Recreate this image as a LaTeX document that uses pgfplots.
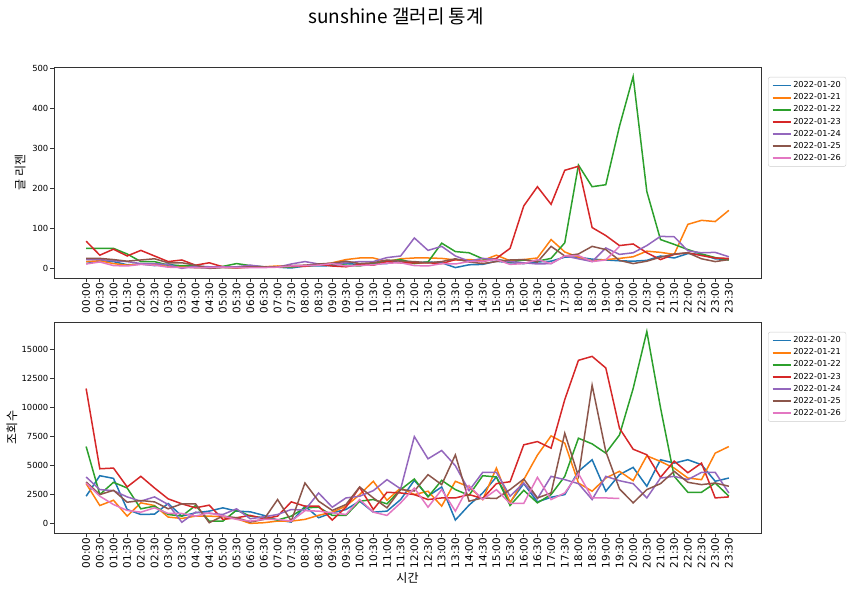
\documentclass[border=0pt]{standalone}
\usepackage{fontspec}
\setmainfont{DejaVu Sans}
\newfontfamily\kr{Noto Sans CJK KR}
\usepackage{pgfplots}
\usepackage{pgfplotstable}
\pgfplotsset{compat=1.18}
\definecolor{c0}{HTML}{1F77B4}
\definecolor{c1}{HTML}{FF7F0E}
\definecolor{c2}{HTML}{2CA02C}
\definecolor{c3}{HTML}{D62728}
\definecolor{c4}{HTML}{9467BD}
\definecolor{c5}{HTML}{8C564B}
\definecolor{c6}{HTML}{E377C2}

\pgfplotstableread{
t a b c d e f g
0 12 17 50 68 22 25 11
1 19 19 50 33 22 25 16
2 17 12 50 48 19 22 7
3 9 8 36 31 17 18 6
4 11 11 17 45 12 21 10
5 7 9 17 31 12 24 8
6 11 5 8 17 9 14 3
7 4 4 7 21 0 14 2
8 2 2 6 8 6 8 2
9 1 2 3 14 4 0 2
10 3 3 5 4 4 2 3
11 2 1 12 2 4 2 2
12 3 3 7 4 8 4 2
13 4 4 4 4 4 4 2
14 3 6 3 4 3 4 3
15 1 4 4 6 11 7 6
16 6 7 6 5 17 8 7
17 6 8 9 10 11 11 8
18 7 14 11 6 12 13 12
19 12 22 8 4 14 18 6
20 10 26 6 10 17 12 7
21 11 26 13 8 17 14 9
22 12 17 18 17 27 21 13
23 21 24 22 14 31 18 14
24 14 26 12 14 76 17 7
25 16 26 16 14 45 14 6
26 14 25 63 12 55 17 12
27 2 21 42 22 31 24 11
28 9 22 39 19 18 16 17
29 10 20 24 17 25 12 18
30 18 33 23 25 22 17 22
31 14 19 16 50 17 21 10
32 12 22 21 156 14 22 12
33 16 26 18 204 11 16 22
34 18 72 25 160 12 55 12
35 28 41 64 245 31 31 31
36 28 28 258 255 24 36 32
37 23 19 204 102 17 55 17
38 21 22 209 82 51 47 21
39 19 25 355 57 35 20 55
40 18 29 479 61 39 12 nan
41 20 43 192 39 57 18 nan
42 31 40 72 22 80 28 nan
43 26 35 60 35 79 36 nan
44 37 110 47 39 44 39 nan
45 35 120 36 32 39 24 nan
46 24 117 27 26 40 17 nan
47 22 145 21 25 29 22 nan
}\toptab

\pgfplotstableread{
t a b c d e f g
0 2350 3435 6640 11650 4010 3580 3490
1 4120 1545 2490 4720 2920 2490 2350
2 3890 2000 3550 4780 2830 2860 1630
3 1200 630 3060 3150 2290 1830 1120
4 770 1775 1260 4065 1920 1975 970
5 800 1545 1490 3060 2290 1860 1345
6 1720 545 770 2120 1630 1260 860
7 630 430 630 1690 100 1690 860
8 915 630 1545 1345 970 1690 630
9 1060 630 200 1575 860 60 915
10 1345 570 200 345 770 630 630
11 1060 400 1145 490 1260 490 345
12 1000 0 630 690 400 115 200
13 690 60 490 400 570 345 345
14 290 200 290 630 770 2060 345
15 115 200 630 1860 1200 200 200
16 1490 345 1345 1490 1150 3490 1100
17 490 700 1400 1490 2630 1920 1060
18 915 970 690 290 1400 1120 915
19 1200 1490 690 1400 2200 1630 770
20 1920 2490 1920 3120 2350 3150 2060
21 970 3640 2060 1200 2830 2200 970
22 1060 2000 1690 2690 3780 1345 690
23 2060 3060 2920 2630 2980 2920 1775
24 3720 2490 3835 2490 7500 2800 3060
25 2350 2780 2290 2060 5580 4210 1400
26 3150 1490 3720 2200 6300 3350 2920
27 290 3640 2920 2200 4980 5920 1060
28 1575 3150 2430 2490 2830 1920 3265
29 2630 2060 4120 2150 4410 2200 2060
30 4010 4780 4010 3435 4410 2150 2920
31 1830 1775 1545 3600 2350 2920 1720
32 3435 3780 2860 6790 3490 3835 1720
33 1860 5900 1775 7070 2130 2200 3980
34 2260 7560 2490 6500 4065 2630 2060
35 2490 6930 4065 10700 3780 7790 2630
36 4500 3490 7360 14090 3435 4065 4300
37 5500 2780 6870 14430 2060 11940 2200
38 2780 3920 6070 13430 4065 6210 2200
39 4210 4500 7640 8220 3690 2980 2150
40 4840 3690 11650 6410 3435 1775 nan
41 3210 5840 16580 5930 2200 2920 nan
42 5500 5350 10000 3980 3920 3435 nan
43 5210 4780 4070 5380 4065 4500 nan
44 5500 3920 2690 4380 3780 3550 nan
45 5070 3780 2690 5210 4410 3350 nan
46 3640 6070 3490 2200 4410 3490 nan
47 3920 6640 2350 2290 2630 3210 nan
}\bottab

\pgfplotsset{
  mystyle/.style={
    scale only axis, width=707pt, height=211pt,
    xmin=-2.35, xmax=49.35,
    xtick={0,...,47},
    xticklabels={00:00,00:30,01:00,01:30,02:00,02:30,03:00,03:30,04:00,04:30,05:00,05:30,06:00,06:30,07:00,07:30,08:00,08:30,09:00,09:30,10:00,10:30,11:00,11:30,12:00,12:30,13:00,13:30,14:00,14:30,15:00,15:30,16:00,16:30,17:00,17:30,18:00,18:30,19:00,19:30,20:00,20:30,21:00,21:30,22:00,22:30,23:00,23:30},
    xticklabel style={rotate=90, anchor=east, font=\fontsize{10.4}{12}\selectfont, inner sep=1.5pt},
    yticklabel style={font=\fontsize{8.4}{10}\selectfont, inner sep=2pt},
    tick align=outside, xtick pos=bottom, ytick pos=left,
    major tick length=3.5pt,
    axis line style={black!80, line width=0.8pt},
    every tick/.style={black!80, line width=0.8pt},
    /pgf/number format/assume math mode=true,
    /pgf/number format/1000 sep={},
    scaled y ticks=false,
    legend style={at={(1.01,0.953)}, anchor=north west, font=\fontsize{8.2}{10}\selectfont, draw=black!20, rounded corners=2pt, inner xsep=3.5pt, inner ysep=3pt, row sep=1.3pt, nodes={inner sep=1.6pt}},
    legend cell align=left,
    legend image code/.code={\draw[#1, line width=1.9pt] (0pt,0pt) -- (18pt,0pt);},
    every axis plot/.append style={line width=1.5pt},
    cycle list={{c0},{c1},{c2},{c3},{c4},{c5},{c6}},
    ylabel style={font=\kr\fontsize{12}{14}\selectfont, anchor=center},
  }
}

\begin{document}
\begin{tikzpicture}
\path[use as bounding box] (0,0) rectangle (850pt,-591pt);
\node[font=\kr\fontsize{19}{22}\selectfont] at (396pt,-16pt) {sunshine 갤러리 통계};

\begin{axis}[mystyle, at={(54pt,-67pt)}, anchor=north west,
  ymin=-24, ymax=503, ytick={0,100,200,300,400,500},
  ylabel={글 리젠}, ylabel style={at={(axis description cs:-0.048,0.5)}}]
\addplot table[x=t,y=a]{\toptab};
\addplot table[x=t,y=b]{\toptab};
\addplot table[x=t,y=c]{\toptab};
\addplot table[x=t,y=d]{\toptab};
\addplot table[x=t,y=e]{\toptab};
\addplot table[x=t,y=f]{\toptab};
\addplot table[x=t,y=g]{\toptab};
\legend{2022-01-20,2022-01-21,2022-01-22,2022-01-23,2022-01-24,2022-01-25,2022-01-26}
\end{axis}

\begin{axis}[mystyle, at={(54pt,-322pt)}, anchor=north west,
  ymin=-830, ymax=17400, ytick={0,2500,5000,7500,10000,12500,15000},
  ylabel={조회수}, ylabel style={at={(axis description cs:-0.0594,0.5)}},
  xlabel={시간}, xlabel style={font=\kr\fontsize{12}{14}\selectfont, at={(axis description cs:0.5,-0.213)}, anchor=center}]
\addplot table[x=t,y=a]{\bottab};
\addplot table[x=t,y=b]{\bottab};
\addplot table[x=t,y=c]{\bottab};
\addplot table[x=t,y=d]{\bottab};
\addplot table[x=t,y=e]{\bottab};
\addplot table[x=t,y=f]{\bottab};
\addplot table[x=t,y=g]{\bottab};
\legend{2022-01-20,2022-01-21,2022-01-22,2022-01-23,2022-01-24,2022-01-25,2022-01-26}
\end{axis}
\end{tikzpicture}
\end{document}
